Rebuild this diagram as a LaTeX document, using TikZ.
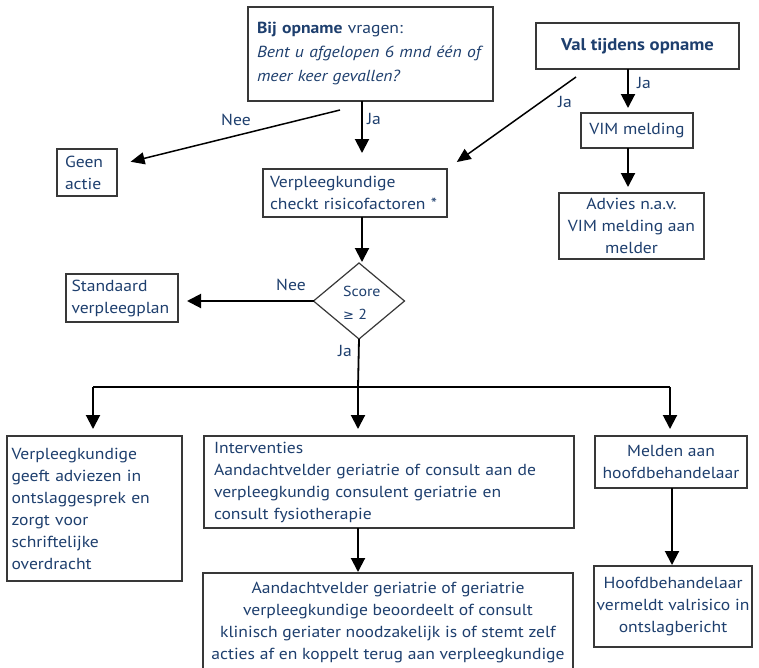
\documentclass[tikz,border=0pt]{standalone}
\usepackage{fontspec}
\setmainfont{PT Sans}[FakeStretch=1.1]
\newfontfamily\symfont{DejaVu Sans}
\usetikzlibrary{arrows.meta,shapes.geometric,calc}
\definecolor{txt}{HTML}{1E3F6E}
\definecolor{frame}{HTML}{383838}
\begin{document}
\begin{tikzpicture}[x=1pt,y=-1pt,
  box/.style={draw=frame, line width=1.4pt, rectangle, anchor=north west,
    inner sep=0pt, outer sep=0pt, text=txt, font=\fontsize{16}{22}\selectfont},
  arr/.style={draw=black, line width=2pt, -{Triangle[length=14pt,width=14pt]}},
  thinarr/.style={draw=black, line width=1.5pt, -{Triangle[length=14pt,width=12pt]}},
  plain/.style={draw=black, line width=1.8pt},
  lbl/.style={text=txt, font=\fontsize{16}{18}\selectfont, inner sep=0pt}]
\useasboundingbox (0,0) rectangle (759,667);
\fill[white] (0,0) rectangle (759,667);
\clip (0,0) rectangle (759,667);

% boxes
\node[box, font=\fontsize{16}{24}\selectfont, minimum width=245pt, minimum height=94pt,
  text width=227pt, align=left] (q) at (248,7)
  {\textbf{Bij opname} vragen:\\\textit{Bent u afgelopen 6 mnd één of}\\\textit{meer keer gevallen?}};
\node[box, font=\fontsize{17}{22}\selectfont, minimum width=203pt, minimum height=46pt, align=center] (val) at (536,23)
  {\textbf{Val tijdens opname}};
\node[box, minimum width=112pt, minimum height=35pt, align=center] (vim) at (581,113)
  {VIM melding};
\node[box, minimum width=145pt, minimum height=66pt, align=center] (adv) at (559,193)
  {Advies n.a.v.\\VIM melding aan\\melder};
\node[box, minimum width=60pt, minimum height=47pt, text width=44pt, align=left] (geen) at (57,149)
  {Geen\\actie};
\node[box, minimum width=184pt, minimum height=48pt, text width=170pt, align=left] (verp) at (263,169)
  {Verpleegkundige\\checkt risicofactoren *};
\node[box, minimum width=112pt, minimum height=48pt, text width=101pt, align=left] (std) at (66,274)
  {Standaard\\verpleegplan};
\node[diamond, draw=frame, line width=1.2pt, minimum width=91pt, minimum height=76pt,
  inner sep=0pt, outer sep=0pt] (dia) at (359,301) {};
\node[lbl, anchor=base west, font=\fontsize{14.5}{18}\selectfont] (score) at (343,296) {Score};
\node[lbl, anchor=base west, font=\fontsize{14.5}{18}\selectfont] (geq) at (343,319) {{\symfont\fontsize{13}{18}\selectfont ≥} 2};

\node[box, minimum width=175pt, minimum height=145pt, text width=166pt, align=left] (lb) at (7,436)
  {Verpleegkundige\\geeft adviezen in\\ontslaggesprek en\\zorgt voor\\schriftelijke\\overdracht};
\node[box, minimum width=370pt, minimum height=92pt, text width=350pt, align=left] (int) at (204,436)
  {Interventies\\Aandachtvelder geriatrie of consult aan de\\verpleegkundig consulent geriatrie en\\consult fysiotherapie};
\node[box, minimum width=370pt, minimum height=98pt, align=center] (aan) at (203,573)
  {Aandachtvelder geriatrie of geriatrie\\verpleegkundige beoordeelt of consult\\klinisch geriater noodzakelijk is of stemt zelf\\acties af en koppelt terug aan verpleegkundige};
\node[box, minimum width=152pt, minimum height=52pt, align=center] (mel) at (595,436)
  {Melden aan\\hoofdbehandelaar};
\node[box, minimum width=158pt, minimum height=81pt, align=center] (hoo) at (594,566)
  {Hoofdbehandelaar\\vermeldt valrisico in\\ontslagbericht};

% helper coordinates
\coordinate (c362) at (362,0);
\coordinate (c628) at (628,0);
\coordinate (c672) at (672,0);
\coordinate (nstart) at (340,110);
\coordinate (dstart) at (576,77);
\coordinate (bl) at (93,387);
\coordinate (br) at (358,387);
\coordinate (brr) at (670,387);

% connectors
\draw[arr, shorten >=16pt] (q.south -| c362) -- (verp.north -| c362);
\draw[thinarr, shorten >=14pt] (nstart) -- (geen);
\draw[thinarr, shorten >=12pt] (dstart) -- (verp.north east);
\draw[arr, shorten >=5pt] (val.south -| c628) -- (vim.north -| c628);
\draw[arr, shorten >=6pt] (vim.south -| c628) -- (adv.north -| c628);
\draw[arr, shorten >=1pt] (verp.south -| c362) -- (dia.north -| c362);
\draw[arr, shorten >=9pt] (dia.west) -- (dia.west -| std.east);
\draw[plain] (dia.south) -- (br);
\draw[plain] (bl) -- (brr);
\draw[arr, shorten >=7pt] (bl) -- (bl |- lb.north);
\draw[arr, shorten >=7pt] (br) -- (br |- int.north);
\draw[arr, shorten >=7pt] (brr) -- (brr |- mel.north);
\draw[arr, shorten >=1pt] (int.south -| br) -- (aan.north -| br);
\draw[arr, shorten >=1pt] (mel.south -| c672) -- (hoo.north -| c672);

% labels
\node[lbl] (l1) at (236,120) {Nee};
\node[lbl] (l2) at (374,118.5) {Ja};
\node[lbl] (l3) at (565,101.5) {Ja};
\node[lbl] (l4) at (644,83) {Ja};
\node[lbl] (l5) at (291,285) {Nee};
\node[lbl] (l6) at (345,350.5) {Ja};
\end{tikzpicture}
\end{document}
